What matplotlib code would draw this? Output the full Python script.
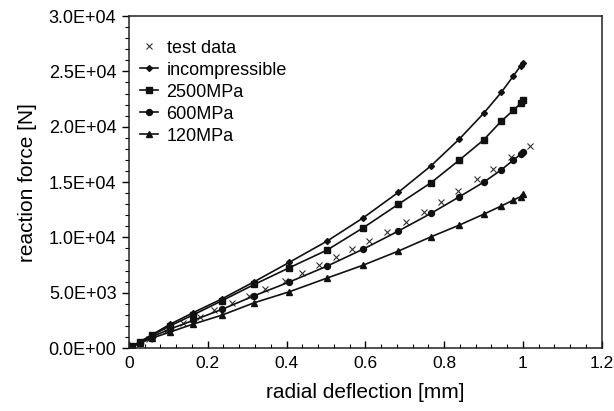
import matplotlib
matplotlib.use("Agg")
import matplotlib.pyplot as plt
from matplotlib.ticker import MultipleLocator, FuncFormatter

plt.rcParams['font.family'] = ['Liberation Sans', 'DejaVu Sans']

# model curves (deflection in mm, force in N)
x_model = [0, 0.008, 0.028, 0.058, 0.104, 0.163, 0.236, 0.318, 0.407, 0.503,
           0.595, 0.684, 0.767, 0.839, 0.900, 0.945, 0.976, 0.994, 1.0]
f_incomp = [0, 170, 580, 1200, 2150, 3200, 4450, 6000, 7750, 9670,
            11780, 14080, 16480, 18900, 21200, 23100, 24600, 25500, 25800]
f_2500 = [0, 160, 550, 1150, 2000, 3000, 4280, 5750, 7260, 8860,
          10880, 13000, 14950, 17000, 18800, 20500, 21500, 22100, 22400]
f_600 = [0, 140, 500, 1020, 1720, 2500, 3500, 4730, 5970, 7410,
         8950, 10580, 12180, 13680, 14980, 16100, 17000, 17500, 17750]
f_120 = [0, 130, 450, 900, 1450, 2170, 2980, 4100, 5090, 6330,
         7500, 8770, 10060, 11120, 12090, 12840, 13380, 13680, 13900]

# test data
x_test = [0.01, 0.05, 0.094, 0.138, 0.18, 0.217, 0.261, 0.305, 0.346, 0.395,
          0.439, 0.483, 0.526, 0.567, 0.61, 0.655, 0.703, 0.748, 0.792, 0.835,
          0.883, 0.923, 0.971, 1.019]
f_test = [150, 800, 1550, 2290, 2830, 3440, 4040, 4730, 5300, 6060,
          6750, 7470, 8200, 8920, 9700, 10500, 11420, 12320, 13230, 14170,
          15250, 16180, 17300, 18260]

fig = plt.figure(figsize=(6.14, 4.11), dpi=100)
ax = fig.add_axes([0.210, 0.153, 0.770, 0.808])

ax.plot(x_test, f_test, linestyle='none', marker='x', color='#333333',
        markersize=5, markeredgewidth=0.8, label='test data')
ax.plot(x_model, f_incomp, color='#111111', lw=1.2, marker='D', markersize=3,
        label='incompressible')
ax.plot(x_model, f_2500, color='#111111', lw=1.2, marker='s', markersize=4,
        label='2500MPa')
ax.plot(x_model, f_600, color='#111111', lw=1.2, marker='o', markersize=4.3,
        label='600MPa')
ax.plot(x_model, f_120, color='#111111', lw=1.2, marker='^', markersize=4.3,
        label='120MPa')

ax.set_xlim(0, 1.2)
ax.set_ylim(0, 30000)
ax.xaxis.set_major_locator(MultipleLocator(0.2))
ax.xaxis.set_minor_locator(MultipleLocator(0.04))
ax.yaxis.set_major_locator(MultipleLocator(5000))
ax.yaxis.set_minor_locator(MultipleLocator(1000))

def xfmt(v, pos):
    if abs(v) < 1e-9:
        return '0'
    s = ('%.1f' % v)
    if s.endswith('.0'):
        s = s[:-2]
    return s

def yfmt(v, pos):
    return '%.1E' % v

ax.xaxis.set_major_formatter(FuncFormatter(xfmt))
ax.yaxis.set_major_formatter(FuncFormatter(yfmt))

ax.tick_params(axis='x', which='major', direction='in', length=5, width=1,
               labelsize=12.5, pad=6, top=False)
ax.tick_params(axis='x', which='minor', direction='in', length=3, width=0.8, top=False)
ax.tick_params(axis='y', which='major', direction='out', length=5, width=1,
               labelsize=13, pad=4, right=False)
ax.tick_params(axis='y', which='minor', direction='out', length=3, width=0.8, right=False)

for sp in ax.spines.values():
    sp.set_linewidth(1.1)
    sp.set_color('#222222')

ax.set_xlabel('radial deflection [mm]', fontsize=15, labelpad=8)
ax.set_ylabel('reaction force [N]', fontsize=15, labelpad=8)

leg = ax.legend(loc='upper left', frameon=False, fontsize=13,
                handlelength=1.0, handletextpad=0.5, labelspacing=0.28,
                borderaxespad=0.5, bbox_to_anchor=(-0.012, 0.978))

fig.savefig('out.png', dpi=100)
